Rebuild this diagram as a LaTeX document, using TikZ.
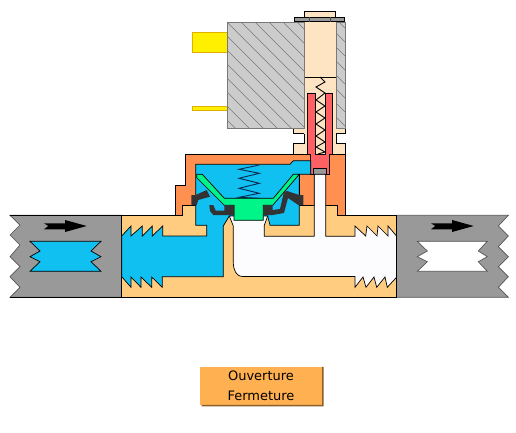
\documentclass[tikz,border=0pt]{standalone}
\usepackage{fontspec}
\usepackage{xcolor}
\setmainfont{DejaVu Sans}
\definecolor{pipe}{RGB}{153,153,153}
\definecolor{coil}{RGB}{204,204,204}
\definecolor{hatch}{RGB}{120,120,120}
\definecolor{body}{RGB}{255,204,128}
\definecolor{cover}{RGB}{255,144,80}
\definecolor{tube}{RGB}{255,228,196}
\definecolor{water}{RGB}{16,192,240}
\definecolor{membrane}{RGB}{0,245,136}
\definecolor{rubber}{RGB}{51,51,51}
\definecolor{plunger}{RGB}{255,96,100}
\definecolor{contact}{RGB}{255,240,0}
\definecolor{contactedge}{RGB}{225,175,0}
\definecolor{button}{RGB}{255,176,80}
\definecolor{buttonedge}{RGB}{140,95,45}
\definecolor{springblue}{RGB}{10,40,80}
\tikzset{
  part/.style={draw=black,line width=0.7pt,line join=miter},
  pipepart/.style={draw=hatch!70!black,line width=0.7pt},
  coilpart/.style={fill=coil,draw=hatch,line width=0.7pt},
  buttonbox/.style={fill=button,minimum width=122pt,minimum height=38pt,inner sep=0pt,
    align=center,font=\fontsize{13}{20}\selectfont}
}
\begin{document}
\begin{tikzpicture}[x=1pt,y=-1pt]
\useasboundingbox (0,0) rectangle (516,433);
% pipes
\draw[pipepart,fill=pipe] (10,215.3) -- (121.7,215.3) -- (121.7,297.3) -- (10,297.3) -- (20,287.3) -- (10,276.7) -- (20,266.7) -- (10,256.7) -- (20,245) -- (10,235) -- (20,225) -- cycle;
\draw[line width=0.7pt] (10,215.3) -- (121.7,215.3) (10,297.3) -- (121.7,297.3);
\draw[pipepart,fill=pipe] (396.5,215.3) -- (508.3,215.3) -- (498.3,226) -- (508.3,236) -- (498.3,246.7) -- (508.3,256.7) -- (498.3,266.7) -- (508.3,276.7) -- (498.3,287.3) -- (508.3,297.3) -- (396.5,297.3) -- cycle;
\draw[part,fill=water] (30,241.3) -- (101,241.3) -- (91,251) -- (101,256.7) -- (91,261.7) -- (101,271.3) -- (30,271.3) -- (40,261.7) -- (30,256.7) -- (40,251) -- cycle;
\draw[pipepart,fill=white] (417.3,241.3) -- (487.3,241.3) -- (478.3,251) -- (487.3,256.7) -- (478.3,261.7) -- (487.3,271.3) -- (417.3,271.3) -- (427.3,261.7) -- (417.3,256.7) -- (427.3,251) -- cycle;
\foreach \dx in {0,387}
  \fill[black,xshift=\dx pt] (44,223.3) -- (65,223.3) -- (65,220) -- (86.7,226) -- (65,232) -- (65,229.3) -- (44,229.3) -- (48.3,226) -- cycle;
% contacts
\draw[fill=contact,draw=contactedge,line width=0.7pt] (192.3,32.3) rectangle (227.3,52.3);
\draw[fill=contact,draw=contactedge,line width=0.7pt] (192.3,106) rectangle (227.3,110.3);
% tube
\draw[part,fill=tube] (293,128) -- (345.3,128) -- (345.3,133) -- (336,133) -- (336,143.5) -- (345.3,143.5) -- (345.3,154.3) -- (293,154.3) -- (293,143.5) -- (304,143.5) -- (304,133) -- (293,133) -- cycle;
\fill[tube] (304,22) rectangle (336,134);
\draw[part,fill=tube] (304.3,11) rectangle (335.7,18);
\draw[part] (304,77) -- (336,77);
% coil
\draw[coilpart] (227.3,22) rectangle (304,128);
\draw[coilpart] (336,22) rectangle (345.3,128);
\begin{scope}
\clip (227.3,22) rectangle (304,128) (336,22) rectangle (345.3,128);
\foreach \i in {-9,...,9}
  \draw[hatch,line width=0.5pt] (227+\i*14,22) -- ++(110,110);
\end{scope}
\draw[hatch,line width=0.7pt] (227.3,22) rectangle (304,128) (336,22) rectangle (345.3,128);
\draw[draw=black,fill=pipe,line width=0.7pt] (294.7,17.5) rectangle (344.7,21.7);
\draw[hatch!60!black,line width=0.7pt] (309,17.5) -- (309,21.7) (330,17.5) -- (330,21.7);
% cover
\draw[part,fill=cover] (185.7,154.3) -- (345.3,154.3) -- (345.3,215.3) -- (175.7,215.3) -- (175.7,185.7) -- (185.7,185.7) -- cycle;
% body
\draw[part,fill=body] (121.7,215.3) -- (182.7,215.3) -- (182.7,205.3) -- (337.3,205.3) -- (337.3,215.3) -- (396.5,215.3) -- (396.5,297.3) -- (121.7,297.3) -- cycle;
% plunger
\draw[part,fill=plunger] (307.3,93.3) -- (315.7,93.3) -- (315.7,154) -- (325.3,154) -- (325.3,93.3) -- (332.7,93.3) -- (332.7,154) -- (329.3,154) -- (329.3,174.3) -- (310.7,174.3) -- (310.7,154) -- (307.3,154) -- cycle;
\fill[tube] (316.2,93) rectangle (324.8,153.6);
\draw[part,fill=pipe] (313.5,168.3) rectangle (326.5,174.3);
\draw[line width=0.9pt] (320,77) -- (325,82) -- (316,87) -- (325,93) -- (316,100) -- (325,106) -- (316,112) -- (325,118) -- (316,124) -- (325,130) -- (316,136) -- (325,142) -- (316,147) -- (325,152) -- (318,154);
% cavity
\draw[part,fill=water] (195.7,164.3) -- (290,164.3) -- (293.3,160.7) -- (310.7,160.7) -- (310.7,174.3) -- (299.3,174.3) -- (299.3,225.3) -- (270,225.3) -- (267.7,216) -- (229.3,216) -- (223.3,226) -- (223.3,276.7) -- (162.3,276.7) -- (162.3,287.3) -- (151.7,277) -- (151.7,287.3) -- (141,277) -- (141,287.3) -- (131,277) -- (131,287.3) -- (121.7,276.7) -- (121.7,236) -- (131,226) -- (131,236) -- (142.3,226) -- (142.3,236) -- (152.3,226) -- (152.3,236) -- (162.7,226) -- (162.7,236) -- (206.7,236) -- (206.7,225.3) -- (195.7,225.3) -- cycle;
\fill[cover] (299.8,174.8) rectangle (313.8,204.8);
\draw[part] (299.3,174.3) -- (299.3,205.3) (314.3,174.3) -- (314.3,205.3);
% outlet
\draw[part,fill=white!99!blue] (233.3,226) -- (229.3,216) -- (267.7,216) -- (264.3,225.3) -- (264.3,236.3) -- (314.3,236.3) -- (314.3,174.3) -- (325.7,174.3) -- (325.7,236.3) -- (355,236.3) -- (355,226) -- (365.7,236) -- (367,226) -- (377,236) -- (378,226) -- (388,236) -- (388,226) -- (396.5,236) -- (396.5,277.3) -- (387.3,287.3) -- (385,277) -- (376.7,287.3) -- (374,277) -- (366,287.3) -- (363,277) -- (355,287.3) -- (355,276.5) -- (243,276.5) .. controls (236,276.5) and (233.3,270) .. (233.3,262) -- cycle;
% membrane
\draw[line width=0.9pt,draw=springblue] (259.3,165) -- (239,169.3) -- (259.3,173.3) -- (239,178.3) -- (259.3,183.3) -- (239,188.3) -- (259.3,193.3) -- (239,197.3) -- (259.3,198.3);
\draw[part,fill=membrane] (196.7,174.3) -- (202.3,174.3) -- (224.3,198.3) -- (273.3,198.3) -- (293.3,174.3) -- (299.3,174.3) -- (272.7,205.3) -- (263.3,205.3) -- (263.3,220.3) -- (234,220.3) -- (234,205.3) -- (224.3,205.3) -- (196.7,177.7) -- cycle;
\fill[rubber] (191.3,195) -- (195.7,195) -- (206.7,190) -- (210,196.7) -- (198.3,200) -- (196.7,205) -- (191.3,205) -- cycle;
\fill[rubber] (209.3,205) -- (213.3,205) -- (215.7,210.7) -- (224.3,210.7) -- (224.3,205.3) -- (234.3,205.3) -- (234.3,215) -- (213.3,215) -- (210,211) -- cycle;
\fill[rubber] (303.3,195) -- (303.3,205) -- (298.3,205) -- (288,198) -- (284,213) -- (272.7,215) -- (263.3,215) -- (263.3,205.3) -- (272.7,205.3) -- (272.7,210) -- (280,209) -- (284,192) -- (287,191) -- (299,195) -- cycle;
% button
\node[buttonbox] (ouverture) at (261,386) {Ouverture\\Fermeture};
\fill[buttonedge] (ouverture.north east) -- ++(1.5,0) -- ++(0,39.5) -- ++(-122,0) -- ++(0,-1.5) -- ++(120.5,0) -- cycle;
\end{tikzpicture}
\end{document}
